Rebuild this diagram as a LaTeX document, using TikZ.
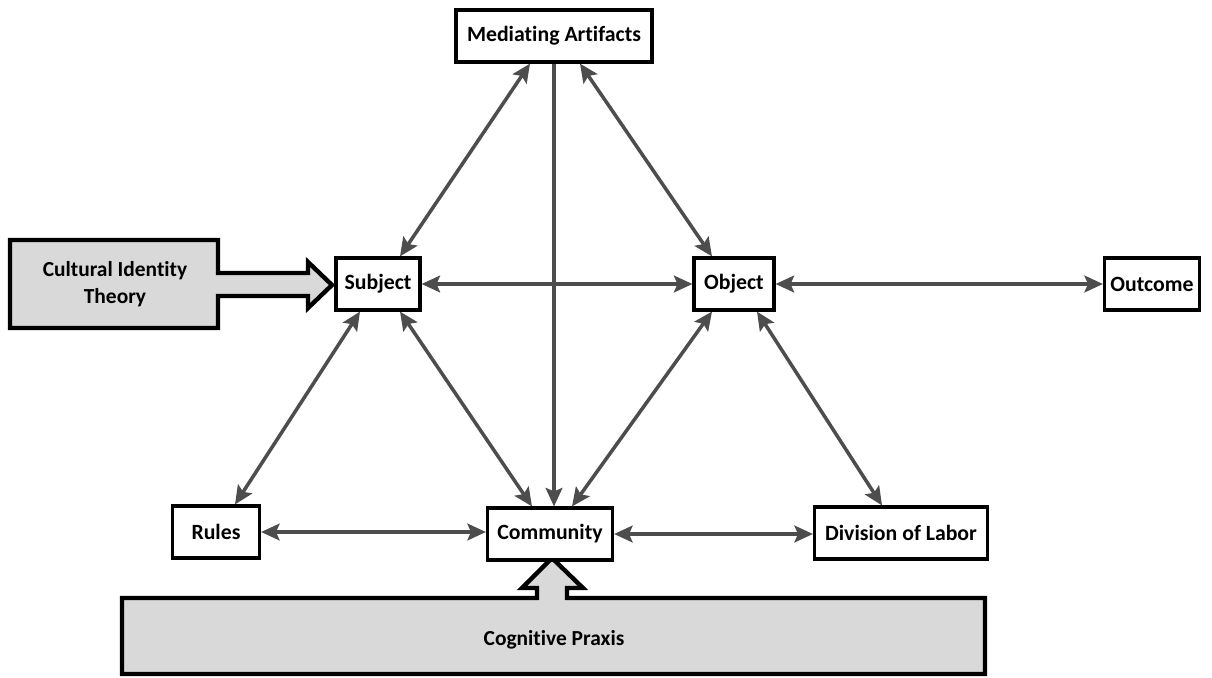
\documentclass[tikz,border=0pt]{standalone}
\usepackage{fontspec}
\setmainfont[Ligatures=CommonOff]{Carlito}
\usetikzlibrary{arrows.meta,calc}
\def\pxl{0.02cm}
\definecolor{conn}{HTML}{4D4D4D}
\definecolor{boxfill}{HTML}{D9D9D9}
\tikzset{
  box/.style={draw=black, line width=1.8pt, fill=white, font=\bfseries\fontsize{12.4}{14}\selectfont, inner sep=0pt, minimum height=52*\pxl},
  tip/.tip={Stealth[length=10.5pt,width=9.5pt,inset=2pt]},
  link/.style={draw=conn, line width=2pt, tip-tip},
  onelink/.style={draw=conn, line width=2pt, -tip},
  bigarrow/.style={draw=black, line width=2.5pt, fill=boxfill, line join=miter},
  bigtext/.style={font=\bfseries\fontsize{12.2}{15}\selectfont, align=center}
}
\begin{document}
\begin{tikzpicture}[x=0.02cm,y=-0.02cm]
\useasboundingbox (0,0) rectangle (1212,677);
% big shapes
\path[bigarrow] (10,240) -- (218,240) -- (218,273) -- (308,273) -- (308,262) -- (332,285) -- (308,308) -- (308,296) -- (218,296) -- (218,328) -- (10,328) -- cycle;
\node[bigtext] (cit) at (115,284) {Cultural Identity\\Theory};
\path[bigarrow] (122,598) -- (537,598) -- (537,588) -- (522,588) -- (552,558) -- (583,588) -- (567,588) -- (567,598) -- (985,598) -- (985,674) -- (122,674) -- cycle;
\node[bigtext] (cp) at (554,640) {Cognitive Praxis};
% boxes
\node[box, minimum width=196*\pxl] (ma) at (554,36) {Mediating Artifacts};
\node[box, minimum width=84*\pxl] (sub) at (378,284) {Subject};
\node[box, minimum width=80*\pxl] (obj) at (734,284) {Object};
\node[box, minimum width=95*\pxl] (out) at (1152,284) {Outcome};
\node[box, minimum width=87*\pxl] (rul) at (216,532) {Rules};
\node[box, minimum width=125*\pxl] (com) at (550,534) {Community};
\node[box, minimum width=173*\pxl] (div) at (901,533) {Division of Labor};
% connectors
\draw[link] ([xshift=-24*\pxl]ma.south) -- ([xshift=22*\pxl]sub.north);
\draw[link] ([xshift=26*\pxl]ma.south) -- ([xshift=-22*\pxl]obj.north);
\draw[onelink] (ma.south) -- (ma.south |- com.north);
\draw[link] (sub.east) -- (obj.west);
\draw[link] (obj.east) -- (out.west);
\draw[link] ([xshift=-18*\pxl]sub.south) -- ([xshift=19*\pxl]rul.north);
\draw[link] ([xshift=22*\pxl]sub.south) -- ([xshift=-18*\pxl]com.north);
\draw[link] ([xshift=-22*\pxl]obj.south) -- ([xshift=22*\pxl]com.north);
\draw[link] ([xshift=23*\pxl]obj.south) -- ([xshift=-19*\pxl]div.north);
\draw[link] (rul.east) -- (rul.east -| com.west);
\draw[link] (com.east) -- (com.east -| div.west);
\end{tikzpicture}
\end{document}
